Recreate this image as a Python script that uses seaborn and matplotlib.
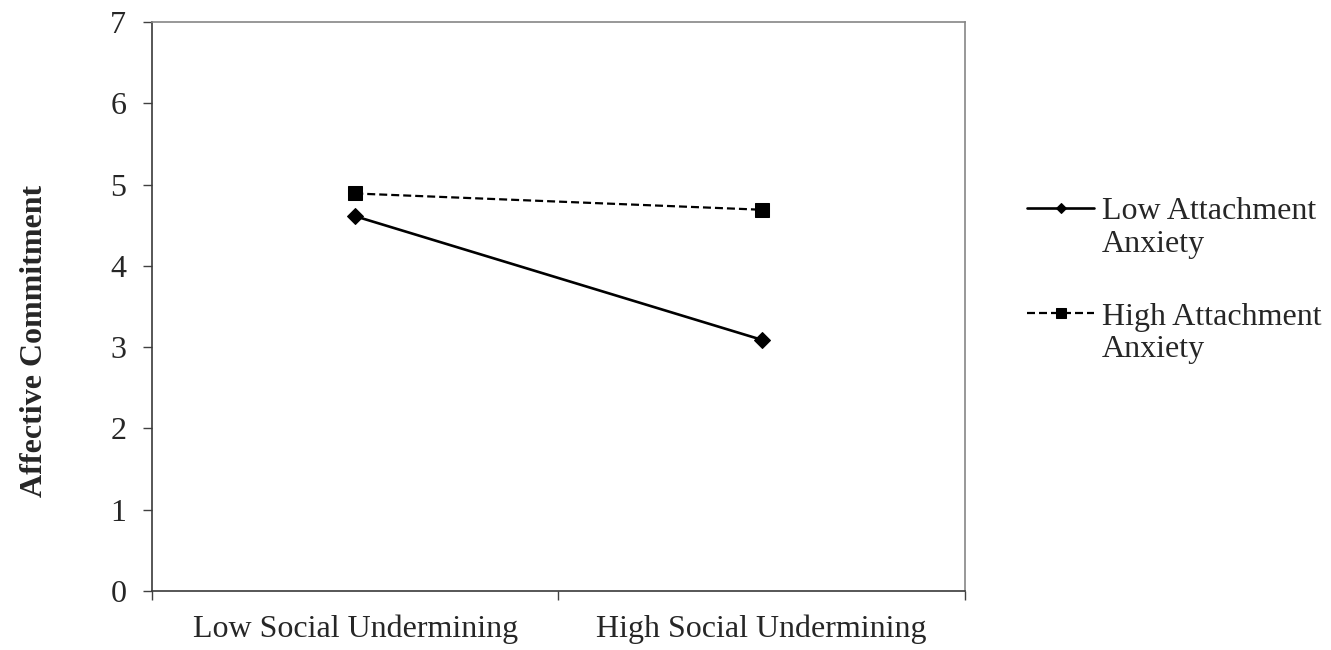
import pandas as pd
import seaborn as sns
import matplotlib.pyplot as plt
from matplotlib.lines import Line2D
from matplotlib.ticker import FixedLocator

conditions = ['Low Social Undermining', 'High Social Undermining']
groups = ['Low Attachment Anxiety', 'High Attachment Anxiety']
low_anxiety = [4.61, 3.09]
high_anxiety = [4.89, 4.69]
y_ticks = [0, 1, 2, 3, 4, 5, 6, 7]

df = pd.DataFrame({
    'condition': conditions * 2,
    'group': [groups[0]] * 2 + [groups[1]] * 2,
    'commitment': low_anxiety + high_anxiety,
})

sns.set_style('white')
plt.rcParams['font.family'] = ['Liberation Serif', 'DejaVu Serif']

fig = plt.figure(figsize=(13.31, 6.5), dpi=100)
ax = fig.add_axes([0.1142, 0.0908, 0.6108, 0.8754])

sns.lineplot(data=df, x='condition', y='commitment', hue='group', style='group',
             palette=['black', 'black'],
             markers={groups[0]: 'D', groups[1]: 's'},
             dashes={groups[0]: '', groups[1]: (3.6, 1.8)},
             linewidth=1.9, markeredgecolor='black', legend=False, ax=ax)

# diamonds a bit smaller than the squares, dashed line a touch thinner
for line in ax.lines:
    if line.get_marker() == 'D':
        line.set_markersize(8)
    else:
        line.set_markersize(10.5)
        line.set_linewidth(1.6)

ax.set_xlim(-0.5, 1.5)
ax.set_ylim(0, 7)
ax.set_yticks(y_ticks)
ax.xaxis.set_minor_locator(FixedLocator([-0.5, 0.5, 1.5]))
ax.tick_params(axis='x', which='major', length=0, pad=17, labelsize=23)
ax.tick_params(axis='x', which='minor', bottom=True, length=6.5, width=1, color='#404040')
ax.tick_params(axis='y', left=True, length=6.5, width=1, color='#404040', pad=12, labelsize=23)

for side in ['left', 'bottom']:
    ax.spines[side].set_color('#3a3a3a')
    ax.spines[side].set_linewidth(1.2)
for side in ['top', 'right']:
    ax.spines[side].set_color('#868686')
    ax.spines[side].set_linewidth(1.2)

ax.set_xlabel('')
ax.set_ylabel('Affective Commitment', fontsize=23, fontweight='bold')
ax.yaxis.set_label_coords(-0.127, 0.439)

blank = Line2D([], [], color='none')
legend_kw = dict(loc='upper left', frameon=False, fontsize=23, borderpad=0,
                 borderaxespad=0, labelspacing=0.1, handlelength=2.1,
                 handletextpad=0.25, markerscale=0.7)
fig.legend([ax.lines[0], blank], ['Low Attachment', 'Anxiety'],
           bbox_to_anchor=(0.7716, 0.697), **legend_kw)
fig.legend([ax.lines[1], blank], ['High Attachment', 'Anxiety'],
           bbox_to_anchor=(0.7716, 0.535), **legend_kw)

fig.savefig('out.png', dpi=100)
